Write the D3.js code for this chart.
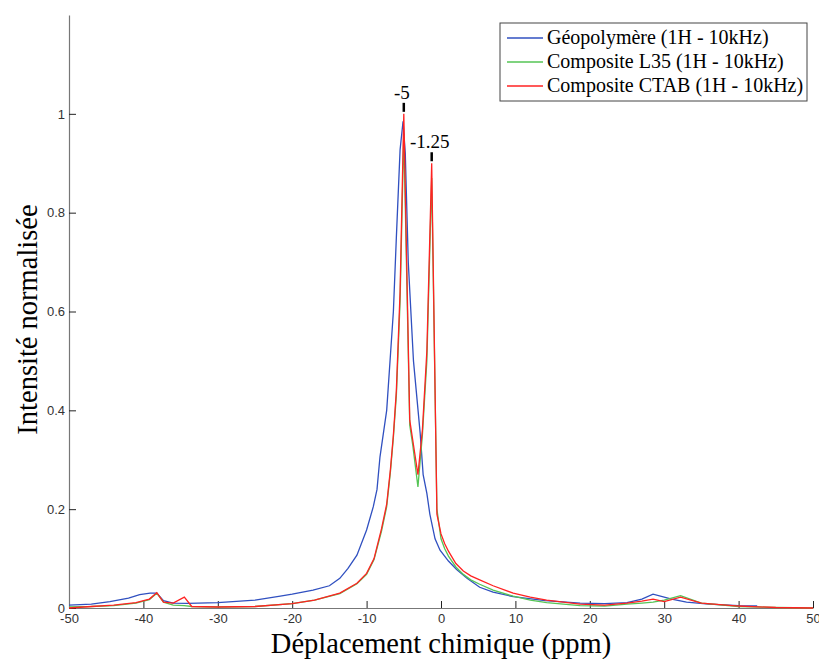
<!DOCTYPE html>
<html>
<head>
<meta charset="utf-8">
<script src="https://cdn.jsdelivr.net/npm/d3@7"></script>
<style>
  body { margin: 0; background: #fff; }
  .tick text { font-family: "Liberation Sans", Arial, sans-serif; font-size: 13px; fill: #333; }
  .serif { font-family: "Liberation Serif", "Times New Roman", serif; fill: #000; }
</style>
</head>
<body>
<div class="chart"></div>
<script>
// spectra (ppm / normalised intensity)
var geoPpm = [-50,-47,-44.5,-42,-40.5,-39.1,-38.2,-37.3,-36,-34,-30,-25,-21.6,-20,-17.2,-15,-13.6,-12.5,-11.3,-10,-9.1,-8.6,-8.2,-7.3,-6.4,-6,-5.5,-5.1,-4.8,-4.4,-3.7,-2.8,-2.4,-1.9,-1.5,-0.8,-0.13,1,2.1,3.5,5.2,7,9.7,14,18.7,22,25,27,28.5,30,31,33,36,40,42.5];
var geoInt = [0.006,0.008,0.013,0.02,0.027,0.03,0.03,0.015,0.01,0.0095,0.011,0.016,0.024,0.028,0.036,0.045,0.06,0.08,0.107,0.158,0.205,0.24,0.306,0.4,0.6,0.75,0.927,0.985,0.92,0.7,0.5,0.354,0.27,0.232,0.19,0.14,0.117,0.095,0.078,0.06,0.042,0.032,0.023,0.015,0.01,0.009,0.011,0.018,0.028,0.022,0.018,0.012,0.008,0.005,0.004];

var compPpm = [-50,-47,-44,-41,-39.2,-38.2,-37.3,-36,-34.5,-33.5,-30,-25,-20,-17,-13.6,-11.3,-10,-9,-8,-7.3,-6.8,-6.4,-6,-5.5,-5,-4.2,-3.8,-3.1,-2.5,-1.9,-1.25,-0.55,0,0.5,1,2,3,4,5.2,7,9.7,12,14.2,18.7,22,25,27,28.5,30,32.2,35,40,45,50];
var l35Int = [0.002,0.003,0.005,0.01,0.017,0.03,0.012,0.006,0.005,0.003,0.002,0.003,0.009,0.016,0.029,0.049,0.068,0.098,0.155,0.205,0.275,0.345,0.43,0.62,0.96,0.37,0.33,0.245,0.35,0.5,0.87,0.2,0.14,0.12,0.105,0.083,0.068,0.057,0.048,0.036,0.024,0.016,0.011,0.005,0.004,0.008,0.01,0.012,0.016,0.025,0.01,0.003,0.001,0];
var ctabInt = [0,0.003,0.006,0.011,0.018,0.031,0.012,0.01,0.022,0.003,0.002,0.003,0.009,0.016,0.03,0.05,0.07,0.1,0.16,0.21,0.28,0.35,0.44,0.64,1.0,0.38,0.34,0.27,0.36,0.52,0.9,0.19,0.15,0.13,0.115,0.09,0.075,0.065,0.057,0.045,0.03,0.022,0.016,0.008,0.006,0.01,0.014,0.018,0.013,0.022,0.01,0.004,0.001,0];

var seriesNames = ["Géopolymère (1H - 10kHz)", "Composite L35 (1H - 10kHz)", "Composite CTAB (1H - 10kHz)"];
var seriesColors = ["#3050c0", "#55c455", "#ff2222"];

var peakPpm = [-5, -1.25];
var peakInt = [1.0, 0.9];
var peakLabels = ["-5", "-1.25"];

var xTicks = [-50, -40, -30, -20, -10, 0, 10, 20, 30, 40, 50];
var yTicks = [0, 0.2, 0.4, 0.6, 0.8, 1];

var svgWidth = 819, svgHeight = 659;
var margin = {top: 15, right: 6, bottom: 51, left: 69};

var svg = d3.select(".chart").append("svg")
  .attr("width", svgWidth)
  .attr("height", svgHeight);

var x = d3.scaleLinear().domain([-50, 50]).range([margin.left, svgWidth - margin.right]);
var y = d3.scaleLinear().domain([0, 1.2]).range([svgHeight - margin.bottom, margin.top]);

// axes, ticks pointing inwards
var xAxis = d3.axisBottom(x).tickValues(xTicks).tickSizeInner(-7).tickSizeOuter(0)
  .tickPadding(3).tickFormat(d => String(d));
var yAxis = d3.axisLeft(y).tickValues(yTicks).tickSizeInner(-7).tickSizeOuter(0)
  .tickPadding(4).tickFormat(d => String(d));

var gx = svg.append("g").attr("transform", `translate(0,${y(0)})`).call(xAxis);
var gy = svg.append("g").attr("transform", `translate(${x(-50)},0)`).call(yAxis);
[gx, gy].forEach(function(g) {
  g.select(".domain").attr("stroke", "#777").attr("stroke-width", 1.2);
  g.selectAll(".tick line").attr("stroke", "#222");
});
gx.selectAll(".tick text").attr("dy", "0.95em");

// curves
var series = [
  geoPpm.map((p, i) => [p, geoInt[i]]),
  compPpm.map((p, i) => [p, l35Int[i]]),
  compPpm.map((p, i) => [p, ctabInt[i]])
];
var line = d3.line().x(d => x(d[0])).y(d => y(d[1]));

svg.selectAll(".curve")
  .data(series)
  .enter()
  .append("path")
  .attr("class", "curve")
  .attr("d", line)
  .attr("fill", "none")
  .attr("stroke", (d, i) => seriesColors[i])
  .attr("stroke-width", 1.3);

// peak markers
peakPpm.forEach(function(p, i) {
  svg.append("line")
    .attr("x1", x(p)).attr("x2", x(p))
    .attr("y1", y(peakInt[i]) - 11).attr("y2", y(peakInt[i]) - 2)
    .attr("stroke", "#000").attr("stroke-width", 2.5);
  svg.append("text")
    .attr("class", "serif")
    .attr("x", x(p) - 2)
    .attr("y", y(peakInt[i]) - 15)
    .attr("text-anchor", "middle")
    .attr("font-size", 19)
    .text(peakLabels[i]);
});

// axis titles
svg.append("text")
  .attr("class", "serif")
  .attr("x", x(0))
  .attr("y", 653)
  .attr("text-anchor", "middle")
  .attr("font-size", 28.5)
  .text("Déplacement chimique (ppm)");

svg.append("text")
  .attr("class", "serif")
  .attr("transform", `translate(37,${(y(0) + margin.top) / 2 + 8}) rotate(-90)`)
  .attr("text-anchor", "middle")
  .attr("font-size", 28.5)
  .text("Intensité normalisée");

// legend
var legend = svg.append("g").attr("transform", "translate(500,23)");
legend.append("rect")
  .attr("width", 307).attr("height", 78)
  .attr("fill", "#fff").attr("stroke", "#444");
seriesNames.forEach(function(name, i) {
  var ly = 15 + i * 24;
  legend.append("line")
    .attr("x1", 7).attr("x2", 43).attr("y1", ly).attr("y2", ly)
    .attr("stroke", seriesColors[i]).attr("stroke-width", 1.3);
  legend.append("text")
    .attr("class", "serif")
    .attr("x", 47).attr("y", ly + 6)
    .attr("font-size", 20)
    .text(name);
});
</script>
</body>
</html>
